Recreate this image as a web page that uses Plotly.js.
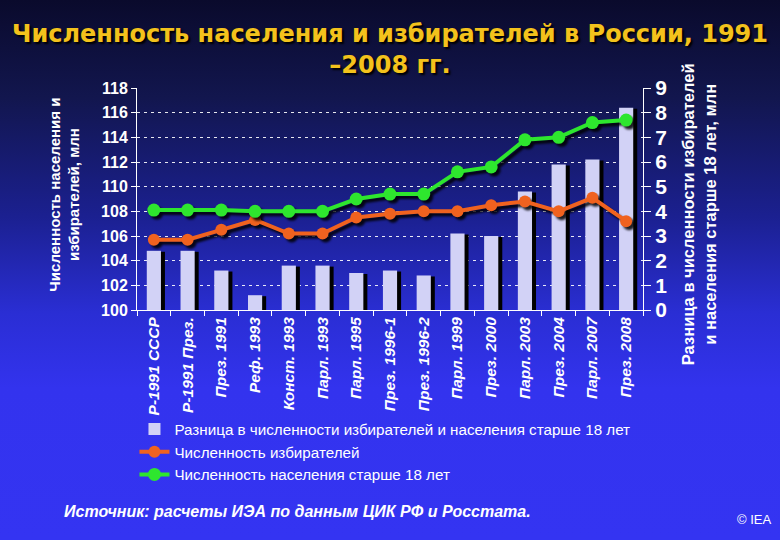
<!DOCTYPE html>
<html>
<head>
<meta charset="utf-8">
<script src="https://cdn.plot.ly/plotly-3.0.1.min.js"></script>
<style>
  html, body { margin: 0; padding: 0; }
  #chart {
    width: 780px; height: 540px;
    background: linear-gradient(to bottom, #0a0a2c 0%, #12164e 18%, #1b2090 40%, #2a2ed4 58%, #3333ee 72%, #3434f2 100%);
  }
  #chart .barlayer .point path { filter: drop-shadow(4px 1px 0 #000); }
  #chart .scatterlayer .trace { filter: drop-shadow(3px 3px 1px rgba(0,0,0,0.85)); }
</style>
</head>
<body>
<div id="chart"></div>
<script>
// ---- data ----
const categories = ['Р-1991 СССР','Р-1991 През.','През. 1991','Реф. 1993','Конст. 1993','Парл. 1993','Парл. 1995','През. 1996-1','През. 1996-2','Парл. 1999','През. 2000','Парл. 2003','През. 2004','Парл. 2007','През. 2008'];
const difference = [2.4, 2.4, 1.6, 0.6, 1.8, 1.8, 1.5, 1.6, 1.4, 3.1, 3.0, 4.8, 5.9, 6.1, 8.2];
const voters = [105.7, 105.7, 106.5, 107.3, 106.2, 106.2, 107.5, 107.8, 108.0, 108.0, 108.5, 108.8, 108.0, 109.1, 107.2];
const population = [108.1, 108.1, 108.1, 108.0, 108.0, 108.0, 109.0, 109.4, 109.4, 111.2, 111.6, 113.8, 114.0, 115.2, 115.4];
const seriesNames = ['Разница в численности избирателей и населения старше 18 лет', 'Численность избирателей', 'Численность населения старше 18 лет'];
const leftTicks = [100, 102, 104, 106, 108, 110, 112, 114, 116, 118];
const rightTicks = [0, 1, 2, 3, 4, 5, 6, 7, 8, 9];

const FONT = 'Liberation Sans, Arial, sans-serif';

const traces = [
  {
    type: 'bar', x: categories, y: difference, yaxis: 'y', name: seriesNames[0],
    width: 0.42,
    marker: { color: '#d2d2f6', line: { width: 0 } }
  },
  {
    type: 'scatter', mode: 'lines+markers', x: categories, y: voters, yaxis: 'y2', name: seriesNames[1],
    line: { color: '#f0621f', width: 4 },
    marker: { color: '#f0621f', size: 12 }
  },
  {
    type: 'scatter', mode: 'lines+markers', x: categories, y: population, yaxis: 'y2', name: seriesNames[2],
    line: { color: '#2ee62e', width: 4 },
    marker: { color: '#2ee62e', size: 13 }
  }
];

const layout = {
  width: 780, height: 540,
  paper_bgcolor: 'rgba(0,0,0,0)', plot_bgcolor: 'rgba(0,0,0,0)',
  margin: { l: 137, r: 137, t: 88, b: 230 },
  font: { family: FONT, color: '#ffffff' },
  showlegend: true,
  barmode: 'overlay',
  title: {
    text: 'Численность населения и избирателей в России, 1991<br>–2008 гг.',
    font: { family: 'DejaVu Sans, Verdana, sans-serif', size: 24, weight: 'bold', color: '#f3c21c', shadow: '2px 2px 2px #000' },
    x: 0.5, xanchor: 'center', y: 0.923, yanchor: 'middle', yref: 'container'
  },
  xaxis: {
    type: 'category', range: [-0.5, 14.5],
    showline: true, linecolor: '#ffffff', linewidth: 1,
    ticks: 'outside', tickson: 'boundaries', ticklen: 5, tickcolor: '#ffffff',
    tickangle: -90,
    tickfont: { family: FONT, size: 15.5, weight: 'bold', style: 'italic', color: '#ffffff' },
    showgrid: false, zeroline: false
  },
  yaxis: {
    side: 'right', range: [0, 9], tickvals: rightTicks,
    showline: true, linecolor: '#ffffff', linewidth: 1,
    ticks: 'outside', ticklen: 7, tickcolor: '#ffffff',
    tickfont: { family: FONT, size: 21, weight: 'bold', color: '#ffffff' },
    showgrid: false, zeroline: false
  },
  yaxis2: {
    overlaying: 'y', side: 'left', range: [100, 118], tickvals: leftTicks,
    showline: true, linecolor: '#ffffff', linewidth: 1,
    ticks: 'outside', ticklen: 5, tickcolor: '#ffffff',
    tickfont: { family: FONT, size: 16, weight: 'bold', color: '#ffffff' },
    showgrid: true, gridcolor: 'rgba(255,255,255,0.9)', gridwidth: 1, griddash: '3px,4px',
    zeroline: false
  },
  legend: {
    x: -0.005, xanchor: 'left', y: -0.462, yanchor: 'top',
    bgcolor: 'rgba(0,0,0,0)',
    font: { family: FONT, size: 15.2, color: '#ffffff' },
    tracegroupgap: 0, itemwidth: 30
  },
  annotations: [
    {
      text: 'Численность населения и<br>избирателей, млн', textangle: -90,
      xref: 'paper', yref: 'paper', x: -0.144, xanchor: 'center', y: 0.52, yanchor: 'middle', showarrow: false,
      font: { family: FONT, size: 15, weight: 'bold', color: '#ffffff' }
    },
    {
      text: 'Разница в численности избирателей<br>и населения старше 18 лет, млн', textangle: -90,
      xref: 'paper', yref: 'paper', x: 1.11, xanchor: 'center', y: 0.43, yanchor: 'middle', showarrow: false,
      font: { family: FONT, size: 16.5, weight: 'bold', color: '#ffffff' }
    },
    {
      text: 'Источник: расчеты ИЭА по данным ЦИК РФ и Росстата.',
      xref: 'paper', yref: 'paper', x: -0.148, xanchor: 'left', y: -0.909, yanchor: 'middle', showarrow: false,
      font: { family: FONT, size: 16, weight: 'bold', style: 'italic', color: '#ffffff' }
    },
    {
      text: '© IEA',
      xref: 'paper', yref: 'paper', x: 1.257, xanchor: 'right', y: -0.945, yanchor: 'middle', showarrow: false,
      font: { family: FONT, size: 13, color: '#ffffff' }
    }
  ]
};

Plotly.newPlot('chart', traces, layout, { displayModeBar: false, staticPlot: true });
</script>
</body>
</html>
